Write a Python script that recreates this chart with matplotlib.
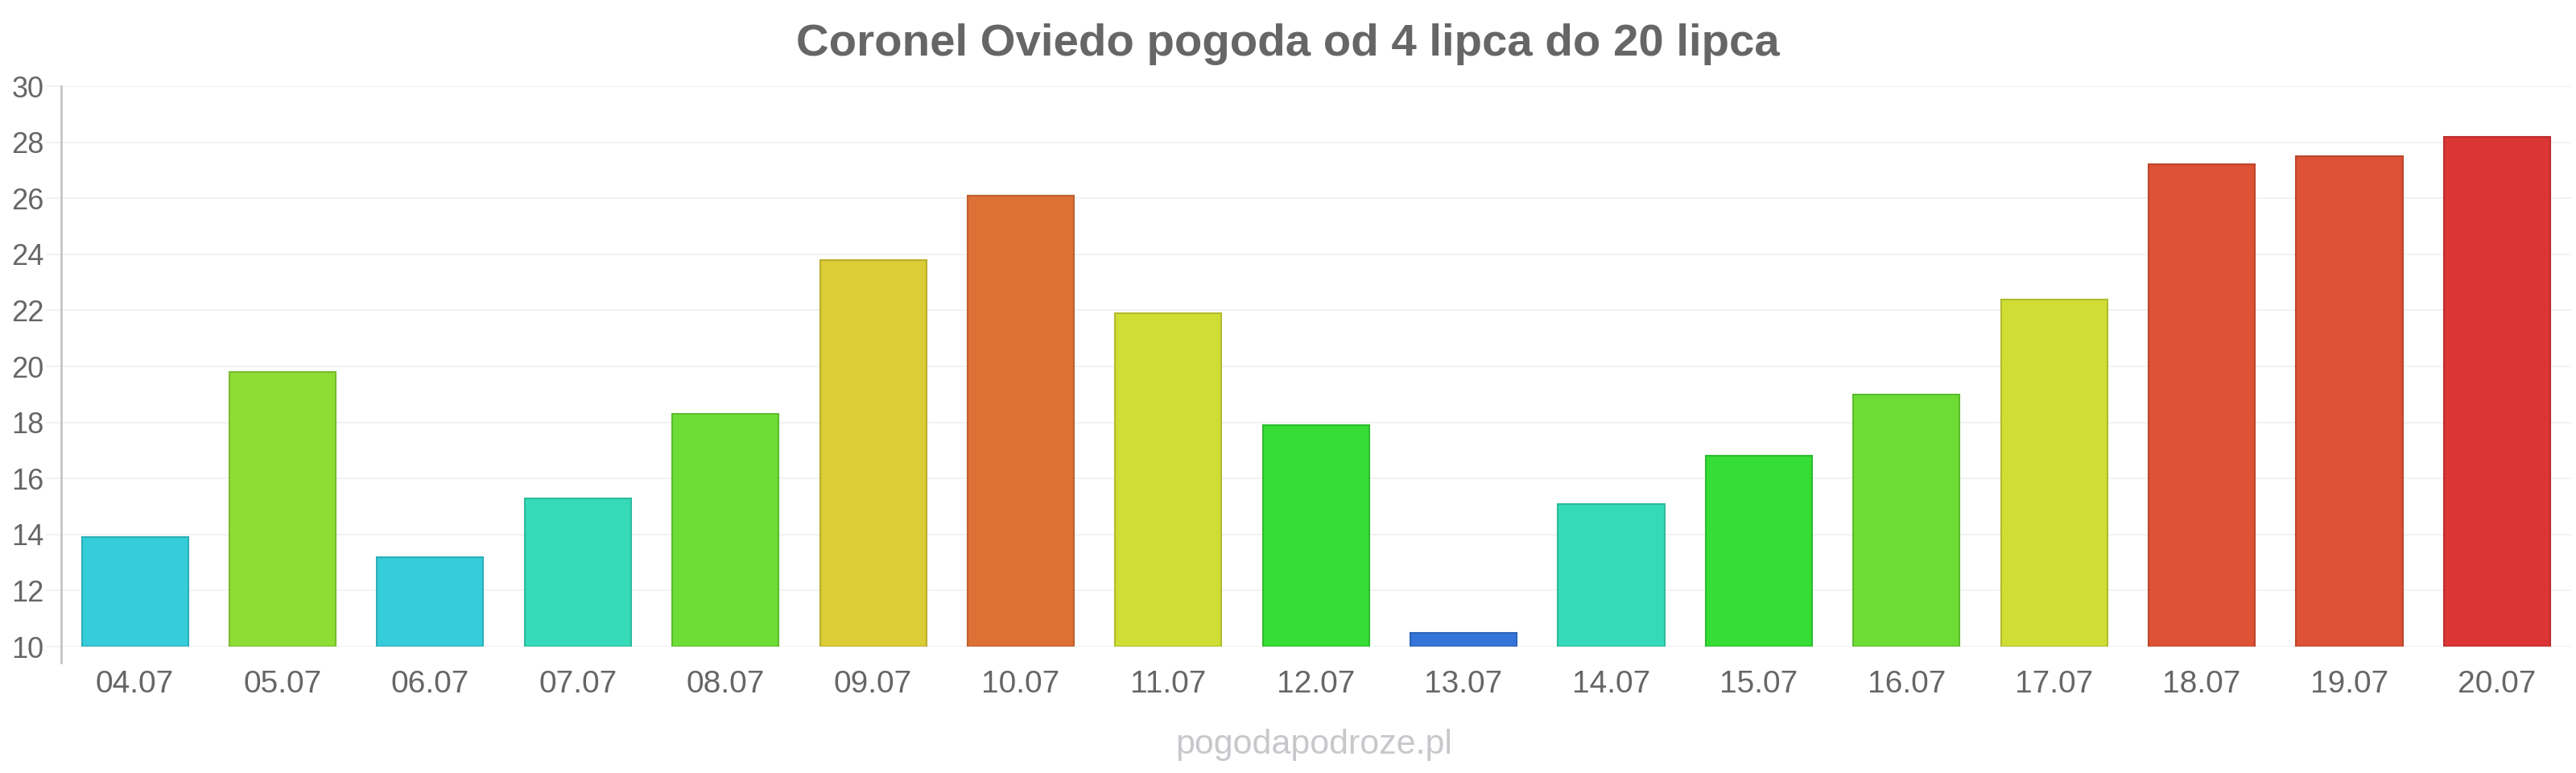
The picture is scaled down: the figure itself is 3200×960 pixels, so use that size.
import matplotlib.pyplot as plt
import matplotlib.colors as mcolors

# Data
days = ['04.07', '05.07', '06.07', '07.07', '08.07', '09.07', '10.07', '11.07', '12.07',
        '13.07', '14.07', '15.07', '16.07', '17.07', '18.07', '19.07', '20.07']
temps = [13.9, 19.8, 13.2, 15.3, 18.3, 23.8, 26.1, 21.9, 17.9,
         10.5, 15.1, 16.8, 19.0, 22.4, 27.2, 27.5, 28.2]
bar_colors = ['#35cdd9', '#8ddd35', '#35cdd9', '#35dbb9', '#6ddd35', '#dbcd35', '#dd7035',
              '#cfdd35', '#35dd35', '#3575d9', '#35dbb9', '#35dd35', '#6ddd35', '#cfdd35',
              '#dd5235', '#dd5235', '#dc3535']
y_ticks = [10, 12, 14, 16, 18, 20, 22, 24, 26, 28, 30]

plt.rcParams['font.family'] = ['Liberation Sans', 'DejaVu Sans']

fig = plt.figure(figsize=(32, 9.6), dpi=100)
ax = fig.add_axes([0.0237, 0.1635, 0.9743, 0.725])

edges = [tuple(c * 0.85 for c in mcolors.to_rgb(col)) for col in bar_colors]
ax.bar(days, [t - 10 for t in temps], bottom=10, width=0.72,
       color=bar_colors, edgecolor=edges, linewidth=1.5, zorder=3)

ax.set_ylim(10, 30)
ax.set_xlim(-0.5, len(days) - 0.5)
ax.set_yticks(y_ticks)
ax.grid(axis='y', color='#f2f2f2', linewidth=1.5, zorder=0)

for side in ['top', 'right', 'bottom']:
    ax.spines[side].set_visible(False)
ax.spines['left'].set_color('#c4c4c4')
ax.spines['left'].set_linewidth(2)
# short extension of the axis line below the baseline
ax.axvline(-0.5, ymin=-0.029, ymax=0, color='#c4c4c4', linewidth=2, clip_on=False)

ax.tick_params(axis='y', length=13.7, width=1.5, color='#f2f2f2', pad=1.5,
               labelsize=26, labelcolor='#666666')
ax.tick_params(axis='x', length=0, pad=21, labelsize=28, labelcolor='#666666')

fig.text(0.5, 0.943, 'Coronel Oviedo pogoda od 4 lipca do 20 lipca',
         ha='center', va='center', fontsize=40.6, fontweight='bold', color='#666666')
fig.text(0.51, 0.036, 'pogodapodroze.pl', ha='center', va='center',
         fontsize=31, color='#c8c8cc')

fig.savefig('out.png', dpi=100)
